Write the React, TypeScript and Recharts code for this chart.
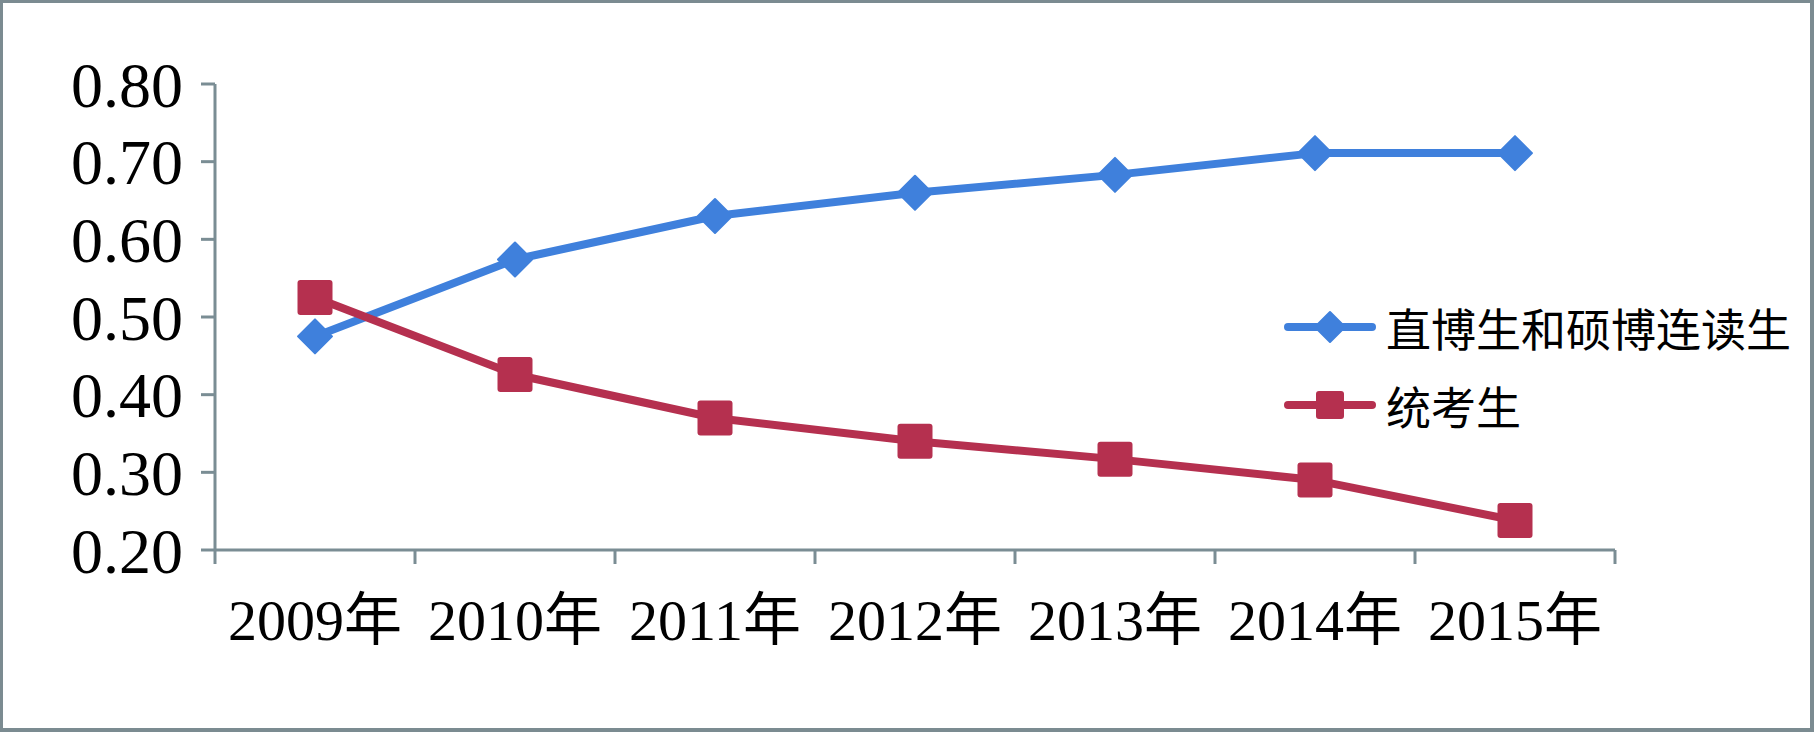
import React from "react";
import { LineChart, Line, XAxis, YAxis, Legend } from "recharts";

const years = ["2009年", "2010年", "2011年", "2012年", "2013年", "2014年", "2015年"];
const zhiboValues = [0.475, 0.574, 0.63, 0.66, 0.683, 0.711, 0.711];
const tongkaoValues = [0.525, 0.426, 0.37, 0.34, 0.317, 0.29, 0.238];
const yTicks = [0.2, 0.3, 0.4, 0.5, 0.6, 0.7, 0.8];

const seriesNames = ["直博生和硕博连读生", "统考生"];

const BLUE = "#3f80dc";
const RED = "#b5304f";
const AXIS = "#7a8d94";

const W = 1814;
const H = 732;
const LEFT = 215;
const RIGHT = 199;
const TOP = 84;
const X_AXIS_H = 182;
const BAND = (W - LEFT - RIGHT) / years.length;

const data = years.map((year, i) => ({
  year,
  zhibo: zhiboValues[i],
  tongkao: tongkaoValues[i]
}));

function Diamond({ cx, cy, size = 17, fill }: any) {
  if (cx == null || cy == null) return null;
  return (
    <path
      d={`M${cx},${cy - size} L${cx + size},${cy} L${cx},${cy + size} L${cx - size},${cy} Z`}
      fill={fill}
      stroke={fill}
      strokeWidth={2}
      strokeLinejoin="round"
    />
  );
}

function Square({ cx, cy, size = 17.5, fill }: any) {
  if (cx == null || cy == null) return null;
  return <rect x={cx - size} y={cy - size} width={size * 2} height={size * 2} rx={3} fill={fill} />;
}

function YearTick({ x, y, payload, index }: any) {
  const left = x - BAND / 2;
  return (
    <g>
      <line x1={left} y1={y} x2={left} y2={y + 14} stroke={AXIS} strokeWidth={3} />
      {index === years.length - 1 && (
        <line x1={left + BAND} y1={y} x2={left + BAND} y2={y + 14} stroke={AXIS} strokeWidth={3} />
      )}
      <text
        x={x}
        y={y + 90}
        textAnchor="middle"
        fill="#000"
        fontSize={58}
        fontFamily="'Liberation Serif', 'Noto Sans CJK SC', serif"
      >
        {payload.value}
      </text>
    </g>
  );
}

function LegendBox() {
  const items = [
    { name: seriesNames[0], color: BLUE, shape: "diamond" },
    { name: seriesNames[1], color: RED, shape: "square" }
  ];
  return (
    <div>
      {items.map((it) => (
        <div key={it.name} style={{ display: "flex", alignItems: "center", height: 78 }}>
          <svg width={100} height={40} style={{ flexShrink: 0 }}>
            <line x1={4} y1={20} x2={88} y2={20} stroke={it.color} strokeWidth={8} strokeLinecap="round" />
            {it.shape === "diamond" ? (
              <Diamond cx={46} cy={20} size={15} fill={it.color} />
            ) : (
              <Square cx={46} cy={20} size={14} fill={it.color} />
            )}
          </svg>
          <span
            style={{
              fontSize: 45,
              color: "#000",
              fontFamily: "'Liberation Serif', 'Noto Sans CJK SC', serif",
              whiteSpace: "nowrap",
              marginLeft: 2
            }}
          >
            {it.name}
          </span>
        </div>
      ))}
    </div>
  );
}

export default function App() {
  return (
    <div style={{ position: "absolute", left: 0, top: 0, width: W, height: H, background: "#fff" }}>
      <LineChart width={W} height={H} data={data} margin={{ top: TOP, right: RIGHT, bottom: 0, left: 0 }}>
        <XAxis
          dataKey="year"
          scale="band"
          height={X_AXIS_H}
          axisLine={{ stroke: AXIS, strokeWidth: 3 }}
          tickLine={false}
          tickSize={0}
          tickMargin={0}
          interval={0}
          tick={<YearTick />}
        />
        <YAxis
          domain={[0.2, 0.8]}
          ticks={yTicks}
          interval={0}
          width={LEFT}
          tickSize={14}
          tickMargin={18}
          axisLine={{ stroke: AXIS, strokeWidth: 3 }}
          tickLine={{ stroke: AXIS, strokeWidth: 3 }}
          tickFormatter={(v: number) => v.toFixed(2)}
          tick={{ fill: "#000", fontSize: 64, fontFamily: "'Liberation Serif', serif" }}
        />
        <Legend
          layout="vertical"
          align="center"
          verticalAlign="middle"
          wrapperStyle={{ left: 1284, top: 288, width: 520 }}
          content={() => <LegendBox />}
        />
        <Line
          dataKey="zhibo"
          name={seriesNames[0]}
          stroke={BLUE}
          strokeWidth={8}
          strokeLinejoin="round"
          isAnimationActive={false}
          dot={<Diamond fill={BLUE} />}
          activeDot={false}
        />
        <Line
          dataKey="tongkao"
          name={seriesNames[1]}
          stroke={RED}
          strokeWidth={8}
          strokeLinejoin="round"
          isAnimationActive={false}
          dot={<Square fill={RED} />}
          activeDot={false}
        />
      </LineChart>
      <div
        style={{
          position: "absolute",
          inset: 0,
          borderStyle: "solid",
          borderColor: "#7b8b91",
          borderWidth: "3px 4px 4px 3px",
          pointerEvents: "none"
        }}
      />
    </div>
  );
}
